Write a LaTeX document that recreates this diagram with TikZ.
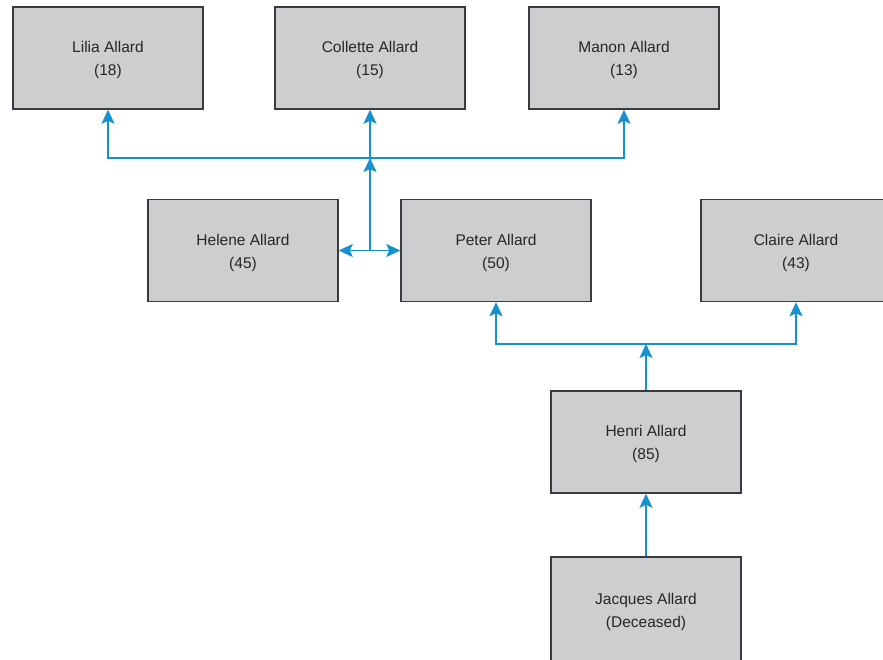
\documentclass[tikz,border=0pt]{standalone}
\usepackage{fontspec}
\setmainfont{Liberation Sans}
\usetikzlibrary{arrows.meta}
\definecolor{boxfill}{HTML}{CDCED0}
\definecolor{boxline}{HTML}{3A3B42}
\definecolor{link}{HTML}{1590D0}
% two centred lines, set a little lower than the box centre
\newcommand\lowline[1]{\raisebox{-2pt}[\height][\depth]{#1}}
\newcommand\who[2]{\lowline{#1}\\\lowline{#2}}
\begin{document}
\begin{tikzpicture}[x=1pt,y=-1pt,
  tip/.tip={Stealth[length=14pt,width=13pt,inset=3pt]},
  person/.style={draw=boxline, line width=1.5pt, fill=boxfill, rectangle,
    minimum width=190pt, minimum height=102pt, inner sep=0pt, align=center,
    font=\fontsize{15.5}{23}\selectfont, text=black!85},
  rel/.style={draw=link, line width=1.8pt, -tip},
  rel2/.style={draw=link, line width=1.8pt, tip-tip}]
\useasboundingbox (0,0) rectangle (883,659);

% family members
\node[person] (lilia)    at (108,58)    {\who{Lilia Allard}{(18)}};
\node[person] (collette) at (370,58)    {\who{Collette Allard}{(15)}};
\node[person] (manon)    at (624,58)    {\who{Manon Allard}{(13)}};
\node[person] (helene)   at (243,250.5) {\who{Helene Allard}{(45)}};
\node[person] (peter)    at (496,250.5) {\who{Peter Allard}{(50)}};
\node[person] (claire)   at (796,250.5) {\who{Claire Allard}{(43)}};
\node[person] (henri)    at (646,442)   {\who{Henri Allard}{(85)}};
\node[person, minimum height=106pt] (jacques) at (646,610)
  {\who{Jacques Allard}{(Deceased)}};

% junction points
\coordinate (couple) at (370,250.5);
\coordinate (kids)   at (370,158);
\coordinate (sons)   at (646,344);

% Jacques -> Henri -> Peter, Claire
\draw[rel] (jacques.north) -- (henri.south);
\draw[rel] (henri.north) -- (sons);
\draw[rel] (sons) -| (peter.south);
\draw[rel] (sons) -| (claire.south);

% Helene <-> Peter and their children
\draw[rel2] (helene.east) -- (peter.west);
\draw[rel] (couple) -- (kids);
\draw[rel] (kids) -| (lilia.south);
\draw[rel] (kids) -- (collette.south);
\draw[rel] (kids) -| (manon.south);
\end{tikzpicture}
\end{document}
